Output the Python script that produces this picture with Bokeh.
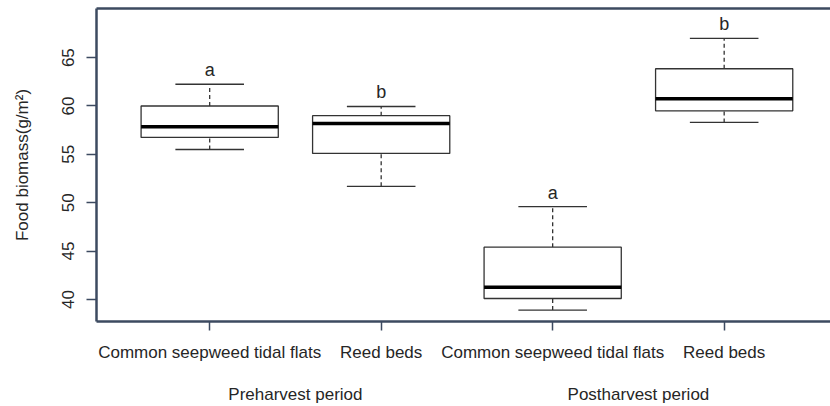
from bokeh.plotting import figure
from bokeh.models import ColumnDataSource, FixedTicker, LinearAxis, Range1d
from bokeh.core.properties import value
from bokeh.embed import file_html
from bokeh.resources import INLINE

# ---- data ----
habitats = ["Common seepweed tidal flats", "Reed beds",
            "Common seepweed tidal flats", "Reed beds"]
periods = ["Preharvest period", "Postharvest period"]
positions = [1, 2, 3, 4]
whisker_low = [55.5, 51.7, 38.9, 58.3]
q1 = [56.75, 55.1, 40.1, 59.5]
median = [57.85, 58.2, 41.25, 60.75]
q3 = [60.0, 59.0, 45.4, 63.85]
whisker_high = [62.25, 59.95, 49.6, 67.0]
letters = ["a", "b", "a", "b"]
y_ticks = [40, 45, 50, 55, 60, 65]

FONT = "Liberation Sans"
AXIS_COL = "#3c4a60"
TXT_COL = "#262626"
BOX_W = 0.8
CAP_W = 0.4

src = ColumnDataSource(dict(
    x=positions,
    left=[p - BOX_W / 2 for p in positions],
    right=[p + BOX_W / 2 for p in positions],
    cl=[p - CAP_W / 2 for p in positions],
    cr=[p + CAP_W / 2 for p in positions],
    lo=whisker_low, q1=q1, med=median, q3=q3, hi=whisker_high,
    letter=letters,
))

p = figure(width=830, height=406, output_backend="svg", toolbar_location=None,
           x_range=Range1d(0.34, 4.62), y_range=Range1d(37.72, 70.08),
           min_border_left=96, min_border_right=0, min_border_top=8,
           min_border_bottom=85)
p.outline_line_color = None
p.grid.visible = False
p.background_fill_color = "white"

# whiskers (dashed)
p.segment(x0="x", y0="q3", x1="x", y1="hi", source=src, line_color="#333333",
          line_width=1.3, line_dash="4 3")
p.segment(x0="x", y0="lo", x1="x", y1="q1", source=src, line_color="#333333",
          line_width=1.3, line_dash="4 3")
# caps
p.segment(x0="cl", y0="hi", x1="cr", y1="hi", source=src, line_color="#333333",
          line_width=1.3)
p.segment(x0="cl", y0="lo", x1="cr", y1="lo", source=src, line_color="#333333",
          line_width=1.3)
# boxes
p.quad(left="left", right="right", bottom="q1", top="q3", source=src,
       fill_color="white", line_color="#333333", line_width=1.3)
# medians
p.segment(x0="left", y0="med", x1="right", y1="med", source=src,
          line_color="black", line_width=3.5)
# letters
p.text(x="x", y="hi", text="letter", source=src, text_align="center",
       text_baseline="alphabetic", y_offset=-14, text_font=value(FONT),
       text_font_size="18px", text_color=TXT_COL)

# x axis (habitats)
xa = p.xaxis[0]
xa.ticker = FixedTicker(ticks=positions)
xa.major_label_overrides = {pos: lab for pos, lab in zip(positions, habitats)}
xa.minor_tick_line_color = None
xa.major_tick_in = 0
xa.major_tick_out = 9
xa.major_tick_line_color = AXIS_COL
xa.major_tick_line_width = 1.5
xa.axis_line_color = AXIS_COL
xa.axis_line_width = 2.5
xa.major_label_standoff = 12
xa.major_label_text_font = FONT
xa.major_label_text_font_size = "17px"
xa.major_label_text_color = TXT_COL

# period axis below
centers = [(positions[0] + positions[1]) / 2, (positions[2] + positions[3]) / 2]
pa = LinearAxis(ticker=FixedTicker(ticks=centers),
                major_label_overrides={c: t for c, t in zip(centers, periods)})
pa.axis_line_color = None
pa.major_tick_line_color = None
pa.minor_tick_line_color = None
pa.major_tick_out = 0
pa.major_tick_in = 0
pa.major_label_standoff = 20
pa.major_label_text_font = FONT
pa.major_label_text_font_size = "17px"
pa.major_label_text_color = TXT_COL
p.add_layout(pa, "below")

# top border line
ta = LinearAxis(ticker=FixedTicker(ticks=[]))
ta.axis_line_color = AXIS_COL
ta.axis_line_width = 2.5
ta.major_tick_line_color = None
ta.minor_tick_line_color = None
ta.major_label_text_font_size = "0px"
ta.major_tick_out = 0
ta.major_tick_in = 0
ta.major_label_standoff = 0
p.add_layout(ta, "above")

# y axis
ya = p.yaxis[0]
ya.ticker = FixedTicker(ticks=y_ticks)
ya.minor_tick_line_color = None
ya.major_tick_in = 0
ya.major_tick_out = 10
ya.major_tick_line_color = AXIS_COL
ya.major_tick_line_width = 1.5
ya.axis_line_color = AXIS_COL
ya.axis_line_width = 2.5
ya.major_label_orientation = "vertical"
ya.major_label_standoff = 12
ya.major_label_text_font = FONT
ya.major_label_text_font_size = "17px"
ya.major_label_text_color = TXT_COL
ya.axis_label = "Food biomass(g/m\u00b2)"
ya.axis_label_text_font = FONT
ya.axis_label_text_font_size = "17px"
ya.axis_label_text_font_style = "normal"
ya.axis_label_text_color = TXT_COL
ya.axis_label_standoff = 28

open("out.html", "w").write(file_html(p, INLINE))
